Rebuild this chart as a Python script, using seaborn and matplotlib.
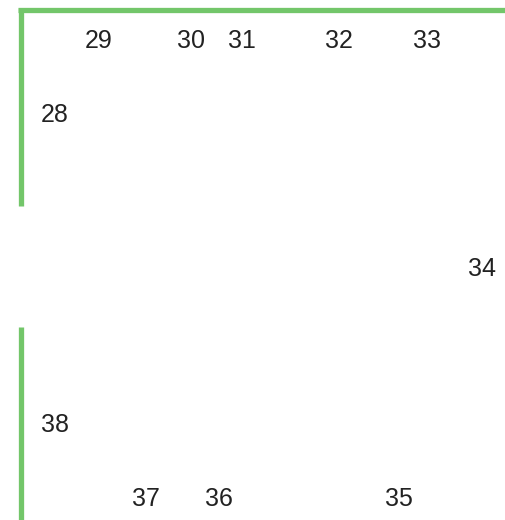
import matplotlib
matplotlib.use("Agg")
import matplotlib.pyplot as plt
import pandas as pd
import seaborn as sns

# seat labels and their positions (pixel coords, y down)
labels = ["28", "29", "30", "31", "32", "33", "34", "35", "36", "37", "38"]
label_x = [55, 99, 191, 242, 339, 427, 482, 399, 219, 146, 55]
label_y = [113, 38, 38, 38, 38, 38, 267, 497, 497, 497, 422]

# wall segments
wall_id = ["top", "top", "left_up", "left_up", "left_down", "left_down"]
wall_x = [18, 506, 21, 21, 21, 21]
wall_y = [10, 10, 8, 206, 327, 520]

WALL_COLOR = "#73C66A"

sns.set_theme(style="white")
plt.rcParams["font.family"] = ["Liberation Sans", "DejaVu Sans"]

fig = plt.figure(figsize=(5.06, 5.20), dpi=100)
ax = fig.add_axes([0, 0, 1, 1])

walls = pd.DataFrame({"wall": wall_id, "x": wall_x, "y": wall_y})
sns.lineplot(
    data=walls, x="x", y="y", units="wall", estimator=None, sort=False,
    color=WALL_COLOR, linewidth=3.8, solid_capstyle="butt", ax=ax,
)

for text, x, y in zip(labels, label_x, label_y):
    ax.text(x, y, text, ha="center", va="center_baseline", fontsize=18, color="#222222")

ax.set_xlim(0, 506)
ax.set_ylim(520, 0)
ax.set_axis_off()

fig.savefig("out.png", dpi=100)
plt.close(fig)
